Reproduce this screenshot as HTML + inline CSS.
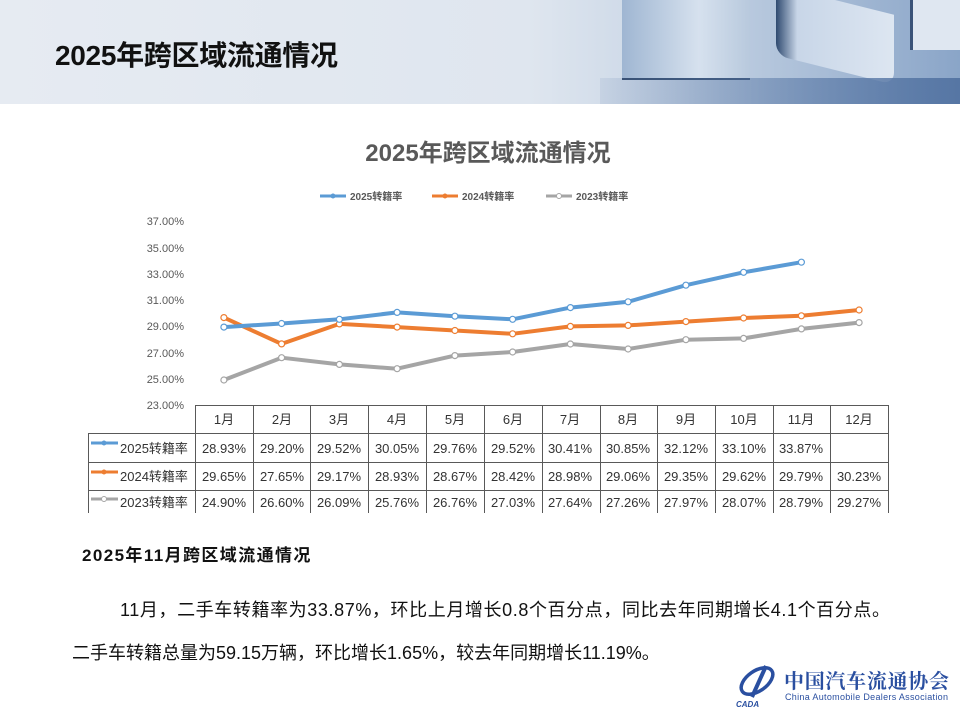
<!DOCTYPE html>
<html><head><meta charset="utf-8"><style>
body{margin:0;width:960px;height:720px;overflow:hidden;background:#fff;font-family:"Liberation Sans","Noto Sans CJK SC",sans-serif;position:relative}
.hdr{position:absolute;left:0;top:0;width:960px;height:104px;background:linear-gradient(90deg,#e6ebf2 0%,#dfe6ef 55%,#c9d6e6 70%,#8aa5c8 100%)}
.t{position:absolute;left:55px;top:34px;font-size:28px;font-weight:bold;color:#111;letter-spacing:-0.3px}
.p{position:absolute;font-size:18px;color:#111;white-space:nowrap}
</style></head><body>
<div class="hdr">
<div style="position:absolute;left:622px;top:0;width:128px;height:78px;background:linear-gradient(90deg,#9fb6d2,#d6e1ee 60%,#b8c9dd);border-bottom:2px solid #2c4466"></div>
<div style="position:absolute;left:776px;top:0;width:118px;height:70px;background:linear-gradient(90deg,#2f4a70,#c8d6e8 18%,#dde6f1);border-radius:0 0 12px 12px;transform:skewY(14deg)"></div>
<div style="position:absolute;left:910px;top:0;width:50px;height:50px;background:#dfe7f1;border-left:3px solid #3a5379"></div>
<div style="position:absolute;left:600px;top:78px;width:360px;height:26px;background:linear-gradient(90deg,rgba(120,145,185,0.15),#5676a4)"></div>
</div>
<div class="t">2025年跨区域流通情况</div>
<svg width="960" height="720" style="position:absolute;left:0;top:0" font-family="Liberation Sans,Noto Sans CJK SC,sans-serif">
<text x="488" y="161" font-size="24" font-weight="bold" fill="#595959" text-anchor="middle">2025年跨区域流通情况</text>
<g font-size="10" fill="#595959" font-weight="bold">
<line x1="320" y1="196" x2="346" y2="196" stroke="#5b9bd5" stroke-width="3"/><circle cx="333" cy="196" r="2.5" fill="#5b9bd5"/><text x="350" y="200">2025转籍率</text>
<line x1="432" y1="196" x2="458" y2="196" stroke="#ed7d31" stroke-width="3"/><circle cx="445" cy="196" r="2.5" fill="#ed7d31"/><text x="462" y="200">2024转籍率</text>
<line x1="546" y1="196" x2="572" y2="196" stroke="#a5a5a5" stroke-width="3"/><circle cx="559" cy="196" r="2.5" fill="#fff" stroke="#a5a5a5"/><text x="576" y="200">2023转籍率</text>
</g>
<g font-size="11" fill="#595959" text-anchor="end">
<text x="184" y="225">37.00%</text><text x="184" y="252">35.00%</text><text x="184" y="278">33.00%</text><text x="184" y="304">31.00%</text><text x="184" y="330">29.00%</text><text x="184" y="357">27.00%</text><text x="184" y="383">25.00%</text><text x="184" y="409">23.00%</text>
</g>
<g fill="none" stroke-width="4" stroke-linejoin="round" stroke-linecap="round">
<polyline stroke="#a5a5a5" points="223.9,380 281.6,357.7 339.4,364.4 397.1,368.7 454.9,355.6 512.6,352 570.4,344 628.1,349 685.9,339.7 743.6,338.4 801.4,328.9 859.1,322.6"/>
<polyline stroke="#ed7d31" points="223.9,317.6 281.6,343.9 339.4,323.9 397.1,327.1 454.9,330.5 512.6,333.8 570.4,326.4 628.1,325.4 685.9,321.6 743.6,318 801.4,315.8 859.1,310"/>
<polyline stroke="#5b9bd5" points="223.9,327.1 281.6,323.5 339.4,319.3 397.1,312.4 454.9,316.2 512.6,319.3 570.4,307.6 628.1,301.8 685.9,285.2 743.6,272.3 801.4,262.2"/>
</g>
<g fill="#fff" stroke-width="1.2">
<g stroke="#a5a5a5"><circle cx="223.9" cy="380" r="3"/><circle cx="281.6" cy="357.7" r="3"/><circle cx="339.4" cy="364.4" r="3"/><circle cx="397.1" cy="368.7" r="3"/><circle cx="454.9" cy="355.6" r="3"/><circle cx="512.6" cy="352" r="3"/><circle cx="570.4" cy="344" r="3"/><circle cx="628.1" cy="349" r="3"/><circle cx="685.9" cy="339.7" r="3"/><circle cx="743.6" cy="338.4" r="3"/><circle cx="801.4" cy="328.9" r="3"/><circle cx="859.1" cy="322.6" r="3"/></g>
<g stroke="#ed7d31"><circle cx="223.9" cy="317.6" r="3"/><circle cx="281.6" cy="343.9" r="3"/><circle cx="339.4" cy="323.9" r="3"/><circle cx="397.1" cy="327.1" r="3"/><circle cx="454.9" cy="330.5" r="3"/><circle cx="512.6" cy="333.8" r="3"/><circle cx="570.4" cy="326.4" r="3"/><circle cx="628.1" cy="325.4" r="3"/><circle cx="685.9" cy="321.6" r="3"/><circle cx="743.6" cy="318" r="3"/><circle cx="801.4" cy="315.8" r="3"/><circle cx="859.1" cy="310" r="3"/></g>
<g stroke="#5b9bd5"><circle cx="223.9" cy="327.1" r="3"/><circle cx="281.6" cy="323.5" r="3"/><circle cx="339.4" cy="319.3" r="3"/><circle cx="397.1" cy="312.4" r="3"/><circle cx="454.9" cy="316.2" r="3"/><circle cx="512.6" cy="319.3" r="3"/><circle cx="570.4" cy="307.6" r="3"/><circle cx="628.1" cy="301.8" r="3"/><circle cx="685.9" cy="285.2" r="3"/><circle cx="743.6" cy="272.3" r="3"/><circle cx="801.4" cy="262.2" r="3"/></g>
</g>
<g stroke="#595959" stroke-width="1">
<line x1="195" y1="405.5" x2="888" y2="405.5"/>
<line x1="88" y1="433.5" x2="888" y2="433.5"/>
<line x1="88" y1="462.5" x2="888" y2="462.5"/>
<line x1="88" y1="490.5" x2="888" y2="490.5"/>
<line x1="88.5" y1="433" x2="88.5" y2="513"/>
<line x1="195.5" y1="405" x2="195.5" y2="513"/><line x1="253.5" y1="405" x2="253.5" y2="513"/><line x1="310.5" y1="405" x2="310.5" y2="513"/><line x1="368.5" y1="405" x2="368.5" y2="513"/><line x1="426.5" y1="405" x2="426.5" y2="513"/><line x1="484.5" y1="405" x2="484.5" y2="513"/><line x1="542.5" y1="405" x2="542.5" y2="513"/><line x1="600.5" y1="405" x2="600.5" y2="513"/><line x1="657.5" y1="405" x2="657.5" y2="513"/><line x1="715.5" y1="405" x2="715.5" y2="513"/><line x1="773.5" y1="405" x2="773.5" y2="513"/><line x1="830.5" y1="405" x2="830.5" y2="513"/><line x1="888.5" y1="405" x2="888.5" y2="513"/>
</g>
<g font-size="13" fill="#333" text-anchor="middle">
<text x="224" y="424">1月</text><text x="282" y="424">2月</text><text x="339" y="424">3月</text><text x="397" y="424">4月</text><text x="455" y="424">5月</text><text x="513" y="424">6月</text><text x="570" y="424">7月</text><text x="628" y="424">8月</text><text x="686" y="424">9月</text><text x="744" y="424">10月</text><text x="801" y="424">11月</text><text x="859" y="424">12月</text>
<g transform="translate(0,29)"><text x="224" y="424">28.93%</text><text x="282" y="424">29.20%</text><text x="339" y="424">29.52%</text><text x="397" y="424">30.05%</text><text x="455" y="424">29.76%</text><text x="513" y="424">29.52%</text><text x="570" y="424">30.41%</text><text x="628" y="424">30.85%</text><text x="686" y="424">32.12%</text><text x="744" y="424">33.10%</text><text x="801" y="424">33.87%</text></g>
<g transform="translate(0,57)"><text x="224" y="424">29.65%</text><text x="282" y="424">27.65%</text><text x="339" y="424">29.17%</text><text x="397" y="424">28.93%</text><text x="455" y="424">28.67%</text><text x="513" y="424">28.42%</text><text x="570" y="424">28.98%</text><text x="628" y="424">29.06%</text><text x="686" y="424">29.35%</text><text x="744" y="424">29.62%</text><text x="801" y="424">29.79%</text><text x="859" y="424">30.23%</text></g>
<g transform="translate(0,83)"><text x="224" y="424">24.90%</text><text x="282" y="424">26.60%</text><text x="339" y="424">26.09%</text><text x="397" y="424">25.76%</text><text x="455" y="424">26.76%</text><text x="513" y="424">27.03%</text><text x="570" y="424">27.64%</text><text x="628" y="424">27.26%</text><text x="686" y="424">27.97%</text><text x="744" y="424">28.07%</text><text x="801" y="424">28.79%</text><text x="859" y="424">29.27%</text></g>
</g>
<g font-size="13" fill="#333">
<line x1="91" y1="443" x2="118" y2="443" stroke="#5b9bd5" stroke-width="3"/><circle cx="104" cy="443" r="2.5" fill="#5b9bd5"/><text x="120" y="453">2025转籍率</text>
<line x1="91" y1="472" x2="118" y2="472" stroke="#ed7d31" stroke-width="3"/><circle cx="104" cy="472" r="2.5" fill="#ed7d31"/><text x="120" y="481">2024转籍率</text>
<line x1="91" y1="499" x2="118" y2="499" stroke="#a5a5a5" stroke-width="3"/><circle cx="104" cy="499" r="2.5" fill="#fff" stroke="#a5a5a5"/><text x="120" y="507">2023转籍率</text>
</g>
<g>
<ellipse cx="757" cy="681" rx="18" ry="10" fill="none" stroke="#2a4fa0" stroke-width="3.5" transform="rotate(-35 757 681)"/>
<path d="M752 697 L766 666" stroke="#2a4fa0" stroke-width="4"/>
<text x="736" y="707" font-size="8" font-weight="bold" font-style="italic" fill="#2a4fa0">CADA</text>
<text x="784" y="688" font-size="20" font-family="Noto Serif CJK SC,serif" font-weight="bold" fill="#2a4fa0" textLength="165">中国汽车流通协会</text>
<text x="785" y="700" font-size="9" fill="#2a4fa0" textLength="163">China Automobile Dealers Association</text>
</g>
</svg>
<div class="p" style="left:82px;top:541px;font-weight:bold;font-size:17px;letter-spacing:1.4px">2025年11月跨区域流通情况</div>
<div class="p" style="left:120px;top:596px;letter-spacing:0.6px">11月，二手车转籍率为33.87%，环比上月增长0.8个百分点，同比去年同期增长4.1个百分点。</div>
<div class="p" style="left:72px;top:639px">二手车转籍总量为59.15万辆，环比增长1.65%，较去年同期增长11.19%。</div>
</body></html>
